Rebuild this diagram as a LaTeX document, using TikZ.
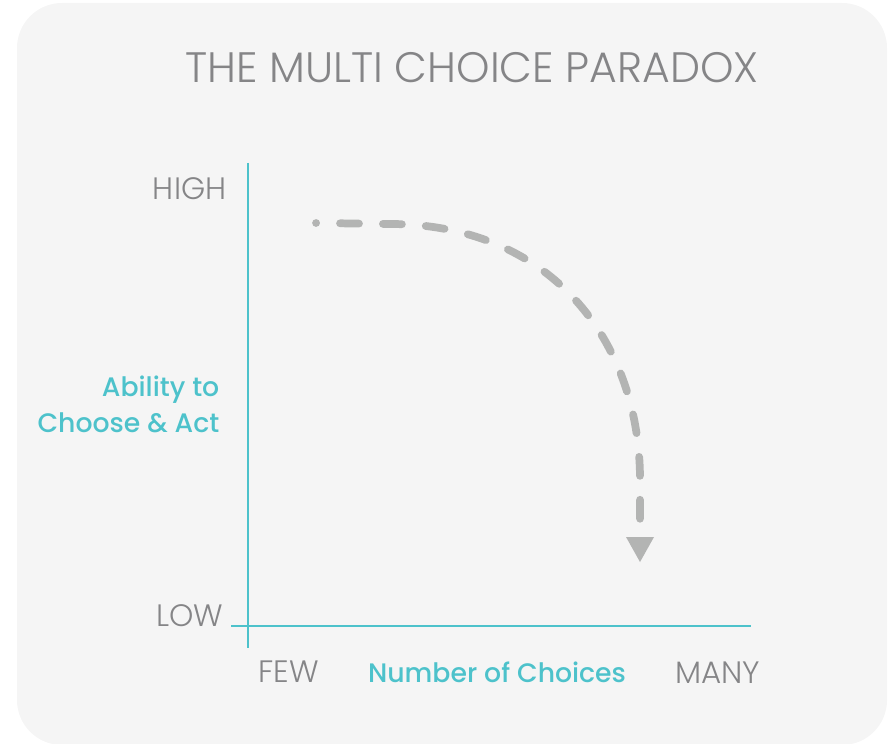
\documentclass[tikz,border=0pt]{standalone}
\usepackage{fontspec}
\setmainfont{Poppins Light}
\newfontfamily\medfont{Poppins Medium}
\usepackage{tikz}
\usetikzlibrary{arrows.meta,calc,positioning}
\definecolor{panel}{HTML}{F5F5F5}
\definecolor{txtgray}{HTML}{858587}
\definecolor{axteal}{HTML}{4DC2CB}
\definecolor{curvegray}{HTML}{B3B4B3}

\begin{document}
\begin{tikzpicture}[x=0.01cm,y=-0.01cm,
  gray label/.style={inner sep=0pt,text=txtgray,font=\fontsize{8.8}{10}\selectfont},
  teal label/.style={inner sep=0pt,text=axteal,font=\medfont\fontsize{7.6}{10.2}\selectfont}]
\useasboundingbox (0,0) rectangle (892,743);
\fill[panel,rounded corners=12.8pt] (17,3) rectangle (887,745);
\node[inner sep=0pt,text=txtgray,font=\fontsize{12.1}{14}\selectfont,anchor=base] (title) at (472,83) {THE MULTI CHOICE PARADOX};
% axes
\draw[axteal,line width=0.6pt] (248,163) coordinate(ytop) -- (248,648) coordinate(ybot);
\draw[axteal,line width=0.6pt] (231,626) coordinate(xleft) -- (751,626) coordinate(xright);
\node[gray label,anchor=base east] (high) at (227,200) {HIGH};
\node[gray label,anchor=base east] (low) at (224,626) {LOW};
\node[gray label,anchor=base west] (few) at (258,682) {FEW};
\node[gray label,anchor=base east] (many) at (761,683) {MANY};
\node[teal label,align=right,anchor=base east] (ability) at (220,432) {Ability to\\Choose \& Act};
\node[teal label,anchor=base] (number) at (497,682) {Number of Choices};
% falling curve
\coordinate (start) at (316,223);
\coordinate (stop) at (640,519);
\coordinate (end) at (640,562);
\draw[curvegray,line width=2.2pt,line cap=round,dash pattern=on 5.4pt off 6.8pt,dash phase=5.37pt]
  (start) -- (390,224) .. controls (550,224) and (640,340) .. (640,480) -- (stop);
\fill[curvegray] (end) -- ++(-14,-25) -- ++(28,0) -- cycle;
\end{tikzpicture}
\end{document}
